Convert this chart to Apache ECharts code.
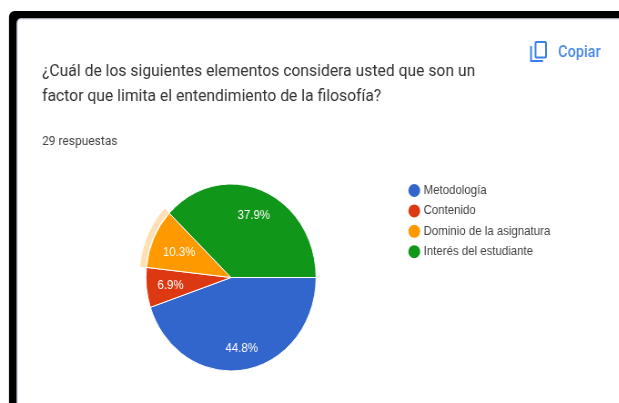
<!DOCTYPE html>
<html><head><meta charset="utf-8">
<style>html,body{margin:0;padding:0;background:#fff;overflow:hidden;width:619px;height:403px}
#c{width:680px;height:403px;transform-origin:0 0;transform:scaleX(0.91)}</style>
<script src="https://cdn.jsdelivr.net/npm/echarts@6/dist/echarts.min.js"></script>
</head><body><div id="c"></div>
<script>
const categories = ['Metodología','Contenido','Dominio de la asignatura','Interés del estudiante'];
const values = [13,2,3,11];
const percentLabels = ['44.8%','6.9%','10.3%','37.9%'];
const colors = ['#3366cc','#dc3912','#ff9900','#109618'];
const highlighted = 'Dominio de la asignatura';
const questionLines = ['¿Cuál de los siguientes elementos considera usted que son un','factor que limita el entendimiento de la filosofía?'];
const responses = '29 respuestas';
const copyLabel = 'Copiar';

// The source picture is squeezed horizontally; the page applies the same squeeze.
const squeeze = 0.91;
const X = v => v / squeeze;
// Small label nudges, matching the source chart's label placement
const labelNudge = [[0.5,1.5],[3,0],[6.5,4],[-1,3]];

const center = [X(231),277.5];
const blue = '#3b82e8';
const chart = echarts.init(document.getElementById('c'),null,{renderer:'canvas'});
chart.setOption({
  animation:false,
  backgroundColor:'#fff',
  title:{
    text:questionLines.join('\n'),left:X(42),top:59,
    textStyle:{fontFamily:'Roboto',fontSize:17.25,fontWeight:400,color:'#333',lineHeight:25},
    subtext:responses,itemGap:26,
    subtextStyle:{fontFamily:'Roboto',fontSize:13.2,color:'#444'},padding:0
  },
  legend:{
    orient:'vertical',left:X(406.5),top:182,icon:'circle',itemWidth:X(15),itemHeight:15,itemGap:3.4,
    symbolKeepAspect:false,padding:0,
    data:categories,selectedMode:false,
    textStyle:{fontFamily:'Liberation Sans',fontSize:12.6,color:'#444',padding:[0,0,0,-3]}
  },
  graphic:[
    {type:'rect',z:-2,shape:{x:X(9),y:11,width:X(700),height:440,r:6},style:{fill:'#000'}},
    {type:'rect',z:-1,shape:{x:X(17.3),y:19,width:X(700),height:430,r:4},style:{fill:'#fff',stroke:'#e2e3ee',lineWidth:1.5}},
    {type:'polyline',shape:{points:[[X(531),46],[X(531),61],[X(543),61]]},style:{stroke:blue,lineWidth:2,fill:'none'}},
    {type:'rect',shape:{x:X(535.5),y:42,width:X(10.5),height:15.5,r:1},style:{stroke:blue,lineWidth:2,fill:'none'}},
    {type:'text',x:X(558),y:44.5,style:{text:copyLabel,fontFamily:'Roboto',fontSize:16,fontWeight:500,fill:'#4a89e8'}}
  ],
  series:[
    {type:'pie',center,radius:[0,93.5],startAngle:0,clockwise:true,silent:true,
     label:{show:false},labelLine:{show:false},
     itemStyle:{borderColor:'#fff',borderWidth:1},
     data:categories.map((n,i)=>({name:n,value:values[i],itemStyle:{color:colors[i]}}))},
    {type:'pie',center,radius:[94.5,100.5],startAngle:0,clockwise:true,silent:true,
     label:{show:false},labelLine:{show:false},
     data:categories.map((n,i)=>({name:n,value:values[i],itemStyle:{color:n===highlighted?'#ffe0b2':'rgba(0,0,0,0)'}}))},
    {type:'pie',center,radius:[41,93],startAngle:0,clockwise:true,silent:true,
     labelLine:{show:false},
     label:{show:true,position:'inside',fontFamily:'Liberation Sans',fontSize:12.6,color:'#fff',
       formatter:p=>percentLabels[p.dataIndex]},
     labelLayout:p=>({dx:labelNudge[p.dataIndex][0],dy:labelNudge[p.dataIndex][1]}),
     data:categories.map((n,i)=>({name:n,value:values[i],itemStyle:{color:'rgba(0,0,0,0)'}}))}
  ]
});
</script></body></html>
